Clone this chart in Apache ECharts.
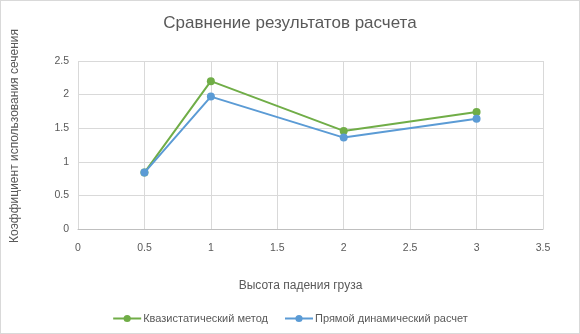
<!DOCTYPE html>
<html>
<head>
<meta charset="utf-8">
<script src="https://cdn.jsdelivr.net/npm/echarts@6/dist/echarts.min.js"></script>
<style>
  html, body { margin: 0; padding: 0; background: #fff; }
  #chart { width: 578px; height: 332px; border: 1px solid #d9d9d9; }
</style>
</head>
<body>
<div id="chart"></div>
<script>
const heights = [0.5, 1, 2, 3];
const quasiStatic = [0.84, 2.2, 1.46, 1.74];
const directDynamic = [0.84, 1.97, 1.36, 1.64];
const seriesNames = ['Квазистатический метод', 'Прямой динамический расчет'];
const colors = ['#70ad47', '#5b9bd5'];

const chart = echarts.init(document.getElementById('chart'));
const font = '"Liberation Sans", "Noto Sans", sans-serif';
const gray = '#595959';

const mk = (vals, i) => ({
  name: seriesNames[i],
  type: 'line',
  data: heights.map((h, k) => [h, vals[k]]),
  symbol: 'circle',
  symbolSize: 8,
  lineStyle: { color: colors[i], width: 2 },
  itemStyle: { color: colors[i] },
  z: i === 0 ? 2 : 3
});

chart.setOption({
  animation: false,
  textStyle: { fontFamily: font },
  title: {
    text: 'Сравнение результатов расчета',
    left: 'center',
    top: 9,
    textStyle: { color: gray, fontSize: 17, fontWeight: 'normal', fontFamily: font }
  },
  grid: { left: 77, right: 36, top: 60, bottom: 104 },
  legend: {
    bottom: 4,
    left: 'center',
    itemWidth: 28,
    itemHeight: 9,
    itemGap: 16,
    textStyle: { color: gray, fontSize: 11, fontFamily: font, padding: [0, 0, 0, -3] },
    data: seriesNames
  },
  xAxis: {
    type: 'value',
    min: 0,
    max: 3.5,
    interval: 0.5,
    name: 'Высота падения груза',
    nameLocation: 'center',
    nameGap: 51,
    nameTextStyle: { color: gray, fontSize: 12, padding: [0, 20, 0, 0] },
    axisLine: { lineStyle: { color: '#bfbfbf' } },
    axisTick: { show: false },
    axisLabel: { color: gray, fontSize: 10.5, margin: 14 },
    splitLine: { lineStyle: { color: '#d9d9d9' } }
  },
  yAxis: {
    type: 'value',
    min: 0,
    max: 2.5,
    interval: 0.5,
    name: 'Коэффициент использования сечения',
    nameLocation: 'center',
    nameGap: 57,
    nameTextStyle: { color: gray, fontSize: 12, padding: [0, 0, 0, 18] },
    axisLine: { show: false },
    axisTick: { show: false },
    axisLabel: { color: gray, fontSize: 10.5, margin: 9 },
    splitLine: { lineStyle: { color: '#d9d9d9' } }
  },
  series: [mk(quasiStatic, 0), mk(directDynamic, 1)]
});
</script>
</body>
</html>
